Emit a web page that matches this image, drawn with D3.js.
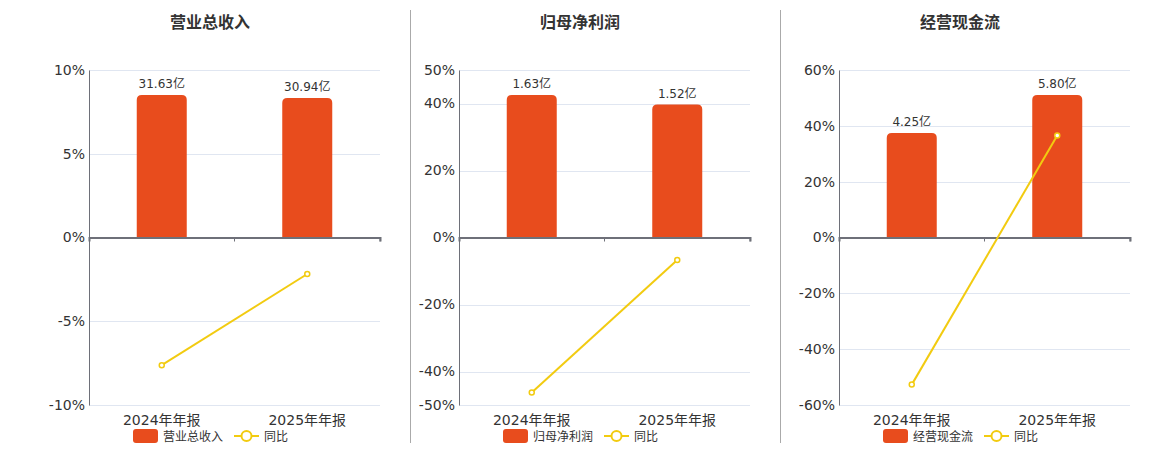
<!DOCTYPE html>
<html><head><meta charset="utf-8">
<script src="https://cdn.jsdelivr.net/npm/d3@7/dist/d3.min.js"></script>
<style>
body{margin:0;background:#fff;}
text{font-family:"DejaVu Sans","Noto Sans CJK SC",sans-serif;}
</style></head>
<body><svg id="c" width="1160" height="450"></svg>
<script>
const categories = ["2024年年报","2025年年报"];
const titles = ["营业总收入","归母净利润","经营现金流"];
const barValues = [[31.63,30.94],[1.63,1.52],[4.25,5.80]];
const barLabels = [["31.63亿","30.94亿"],["1.63亿","1.52亿"],["4.25亿","5.80亿"]];
const yoyValues = [[-7.62,-2.18],[-46.3,-6.75],[-52.7,36.5]];
const yDomains = [[-10,10],[-50,50],[-60,60]];
const yTicks = [[-10,-5,0,5,10],[-50,-40,-20,0,20,40,50],[-60,-40,-20,0,20,40,60]];
const seriesNames = ["营业总收入","归母净利润","经营现金流"];
const lineName = "同比";

const barColor = "#e84c1d", lineColor = "#f2cb10";
const svg = d3.select("#c");
const offsets = [0, 370, 750];
const dividers = [410.5, 780.5];
const plotTop = 70, plotBottom = 405;

dividers.forEach(dx => svg.append("line").attr("x1", dx).attr("x2", dx).attr("y1", 10).attr("y2", 443)
  .attr("stroke", "#aaa").attr("stroke-width", 1));

for (let p = 0; p < 3; p++) {
  const ox = offsets[p];
  const g = svg.append("g");
  const x0 = 89 + ox, x1 = 380 + ox;
  g.append("text").attr("x", 210 + ox).attr("y", 28).attr("text-anchor", "middle")
    .attr("font-size", 16).attr("font-weight", "bold").attr("fill", "#333").text(titles[p]);

  const x = d3.scaleBand().domain(categories).range([x0, x1]);
  const y = d3.scaleLinear().domain(yDomains[p]).range([plotBottom, plotTop]);
  const bmax = d3.max(barValues[p]) / 0.851;
  const yb = d3.scaleLinear().domain([-bmax, bmax]).range([plotBottom, plotTop]);

  // grid
  g.selectAll(".grid").data(yTicks[p].filter(t => t !== 0)).join("line")
    .attr("x1", x0).attr("x2", x1).attr("y1", d => Math.round(y(d)) + 0.5).attr("y2", d => Math.round(y(d)) + 0.5)
    .attr("stroke", "#e0e6f1").attr("stroke-width", 1);

  // y axis
  const ya = g.append("g").attr("transform", `translate(${x0},0)`)
    .call(d3.axisLeft(y).tickValues(yTicks[p]).tickFormat(d => d + "%").tickSize(0).tickPadding(4));
  ya.select(".domain").attr("stroke", "#6e7079").attr("stroke-width", 1);
  ya.selectAll("text").attr("font-size", 14).attr("fill", "#333")
    .style("font-family", '"DejaVu Sans",sans-serif');

  // bars
  const r = 5;
  g.selectAll(".bar").data(barValues[p]).join("path")
    .attr("fill", barColor)
    .attr("d", (d, i) => {
      const cx = x(categories[i]) + x.bandwidth() / 2, w = 50;
      const l = cx - w / 2, rr = l + w, t = yb(d), b = yb(0);
      return `M${l},${b}V${t + r}Q${l},${t} ${l + r},${t}H${rr - r}Q${rr},${t} ${rr},${t + r}V${b}Z`;
    });
  g.selectAll(".bl").data(barValues[p]).join("text")
    .attr("x", (d, i) => x(categories[i]) + x.bandwidth() / 2)
    .attr("y", d => yb(d) - 7).attr("text-anchor", "middle")
    .attr("font-size", 12).attr("fill", "#333").text((d, i) => barLabels[p][i]);

  // x axis at zero
  const xa = g.append("g").attr("transform", `translate(0,${y(0)})`)
    .call(d3.axisBottom(x).tickSize(4).tickFormat(""));
  xa.select(".domain").attr("stroke", "#6e7079").attr("stroke-width", 2);
  xa.selectAll(".tick line").attr("stroke", "#6e7079");
  xa.selectAll(".tick").attr("transform", d => `translate(${x(d) + x.bandwidth()},0)`);

  // category labels
  g.selectAll(".cl").data(categories).join("text")
    .attr("x", d => x(d) + x.bandwidth() / 2).attr("y", 425).attr("text-anchor", "middle")
    .attr("font-size", 14).attr("fill", "#333").text(d => d);

  // line
  const line = d3.line().x((d, i) => x(categories[i]) + x.bandwidth() / 2).y(d => y(d));
  g.append("path").datum(yoyValues[p]).attr("d", line).attr("fill", "none")
    .attr("stroke", lineColor).attr("stroke-width", 2);
  g.selectAll(".pt").data(yoyValues[p]).join("circle")
    .attr("cx", (d, i) => x(categories[i]) + x.bandwidth() / 2).attr("cy", d => y(d))
    .attr("r", 2.5).attr("fill", "#fff").attr("stroke", lineColor).attr("stroke-width", 1.5);

  // legend
  const lx = 133 + ox, ly = 436;
  g.append("rect").attr("x", lx).attr("y", ly - 7).attr("width", 25).attr("height", 14).attr("rx", 3).attr("fill", barColor);
  g.append("text").attr("x", lx + 30).attr("y", ly + 4.5).attr("font-size", 12).attr("fill", "#333").text(seriesNames[p]);
  const lx2 = lx + 101;
  g.append("line").attr("x1", lx2).attr("x2", lx2 + 25).attr("y1", ly).attr("y2", ly).attr("stroke", lineColor).attr("stroke-width", 2);
  g.append("circle").attr("cx", lx2 + 12.5).attr("cy", ly).attr("r", 5).attr("fill", "#fff").attr("stroke", lineColor).attr("stroke-width", 2);
  g.append("text").attr("x", lx2 + 30).attr("y", ly + 4.5).attr("font-size", 12).attr("fill", "#333").text(lineName);
}
</script></body></html>
